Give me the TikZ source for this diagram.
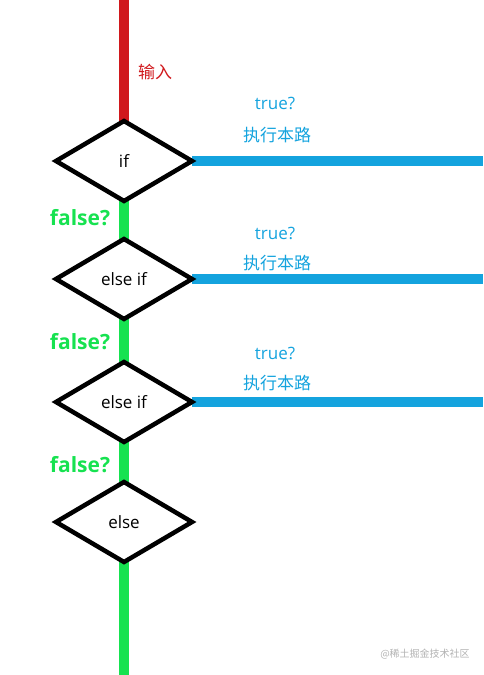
\documentclass[tikz,border=0pt]{standalone}
\usepackage{fontspec}
\setmainfont{Open Sans}
\newfontfamily\cjk{Noto Sans CJK SC}
\usetikzlibrary{positioning,shapes.geometric,backgrounds}

\definecolor{inred}{RGB}{208,24,28}
\definecolor{falsegreen}{RGB}{22,226,80}
\definecolor{trueblue}{RGB}{20,163,222}

\begin{document}
\begin{tikzpicture}[x=1pt, y=-1pt,
        cond/.style={draw, diamond, fill=white, line width=4.5pt, minimum width=136pt, minimum height=80pt, inner sep=0pt, outer sep=0pt, font=\fontsize{17}{17}\selectfont},
        flow/.style={line width=10pt},
        lbl/.style={font=\fontsize{17}{17}\selectfont},
        falselbl/.style={text=falsegreen, font=\fontsize{21}{21}\selectfont\bfseries}
    ]
        \useasboundingbox (0,0) rectangle (483,675);

        % Conditions
        \node[cond] (cond1) at (124, 161) {if};
        \node[cond] (cond2) at (124, 279) {else if};
        \node[cond] (cond3) at (124, 402) {else if};
        \node[cond] (cond4) at (124, 522) {else};

        % Free ends
        \coordinate (start) at (124, 0);
        \coordinate (finish) at (124, 675);
        \coordinate (out1) at (483, 161);
        \coordinate (out2) at (483, 279);
        \coordinate (out3) at (483, 402);

        \begin{scope}[on background layer]
            % Input and false paths
            \draw[flow, inred] (start) -- (cond1.north);
            \draw[flow, falsegreen] (cond1.south) -- (cond2.north);
            \draw[flow, falsegreen] (cond2.south) -- (cond3.north);
            \draw[flow, falsegreen] (cond3.south) -- (cond4.north);
            \draw[flow, falsegreen] (cond4.south) -- (finish);

            % True paths
            \draw[flow, trueblue] (cond1.east) -- (out1);
            \draw[flow, trueblue] (cond2.east) -- (out2);
            \draw[flow, trueblue] (cond3.east) -- (out3);
        \end{scope}

        % Labels
        \node[lbl, text=inred] (inlbl) at (155, 72) {\cjk 输入};
        \node[lbl, text=trueblue] (true1) at (275, 103) {true?};
        \node[lbl, text=trueblue] (run1) at (277, 135) {\cjk 执行本路};
        \node[lbl, text=trueblue] (true2) at (275, 233) {true?};
        \node[lbl, text=trueblue] (run2) at (277, 263) {\cjk 执行本路};
        \node[lbl, text=trueblue] (true3) at (275, 353) {true?};
        \node[lbl, text=trueblue] (run3) at (277, 383) {\cjk 执行本路};
        \node[falselbl] (false1) at (80, 218) {false?};
        \node[falselbl] (false2) at (80, 342) {false?};
        \node[falselbl] (false3) at (80, 465) {false?};

        % Watermark
        \node[text=black!30, font=\fontsize{10}{10}\selectfont] (mark) at (425, 654) {\cjk @稀土掘金技术社区};
    \end{tikzpicture}
\end{document}
